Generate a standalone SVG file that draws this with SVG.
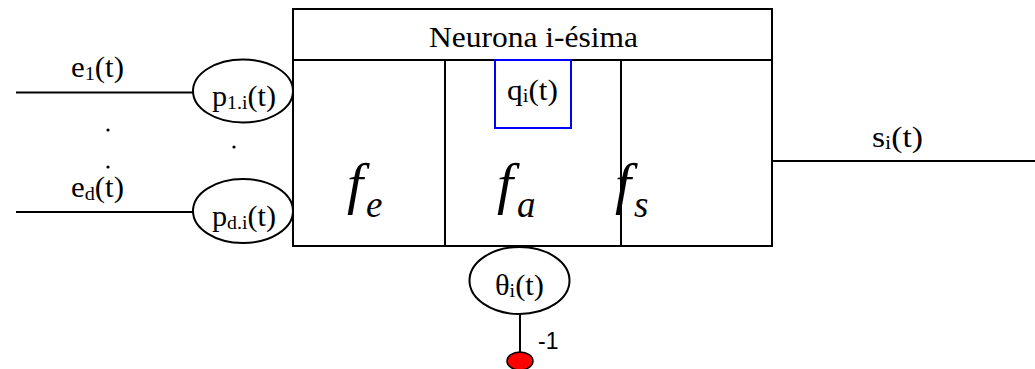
<svg xmlns="http://www.w3.org/2000/svg" width="1035" height="369" viewBox="0 0 1035 369">
<style>
.ln{stroke:#000;stroke-width:2;fill:none}
.el{stroke:#000;stroke-width:2;fill:#fff}
.t{font-size:29px;fill:#000}
.sub{font-size:19px}
.h{font-size:30px;fill:#000}
.fi{font-style:italic;fill:#000}
.big{font-size:58px}
.sm{font-size:37px}
.s{font-size:23px;fill:#000}
</style>
<g id="connectors">
<line class="ln" x1="16" y1="92.5" x2="193" y2="92.5"/>
<line class="ln" x1="16" y1="212" x2="193" y2="212"/>
<line class="ln" x1="772" y1="161" x2="1035" y2="161"/>
<line class="ln" x1="520" y1="314" x2="520" y2="353"/>
</g>
<g id="input-labels" font-family="Liberation Serif, Times New Roman, serif">
<text class="t" x="71" y="77" textLength="53" lengthAdjust="spacingAndGlyphs">e<tspan class="sub" dy="3">1</tspan><tspan dy="-3">(t)</tspan></text>
<text class="t" x="71" y="197" textLength="53" lengthAdjust="spacingAndGlyphs">e<tspan class="sub" dy="3">d</tspan><tspan dy="-3">(t)</tspan></text>
<circle cx="108" cy="130" r="1.6" fill="#000"/>
<circle cx="234" cy="147" r="1.6" fill="#000"/>
<circle cx="108" cy="167" r="1.6" fill="#000"/>
</g>
<g id="p1" font-family="Liberation Serif, Times New Roman, serif">
<ellipse class="el" cx="243" cy="91" rx="50" ry="31.5"/>
<text class="t" x="212" y="106" textLength="64" lengthAdjust="spacingAndGlyphs">p<tspan class="sub" dy="3">1.i</tspan><tspan dy="-3">(t)</tspan></text>
</g>
<g id="pd" font-family="Liberation Serif, Times New Roman, serif">
<ellipse class="el" cx="243" cy="211" rx="50" ry="32"/>
<text class="t" x="212" y="226" textLength="64" lengthAdjust="spacingAndGlyphs">p<tspan class="sub" dy="3">d.i</tspan><tspan dy="-3">(t)</tspan></text>
</g>
<g id="neuron" font-family="Liberation Serif, Times New Roman, serif">
<rect class="ln" x="293" y="9" width="479" height="237"/>
<line class="ln" x1="293" y1="60" x2="772" y2="60"/>
<line class="ln" x1="445" y1="60" x2="445" y2="246"/>
<line class="ln" x1="621" y1="60" x2="621" y2="246"/>
<text class="h" x="429" y="47" textLength="209" lengthAdjust="spacingAndGlyphs">Neurona i-ésima</text>
<text class="fi big" x="347" y="203">f</text>
<text class="fi sm" x="366" y="217">e</text>
<text class="fi big" x="497" y="203">f</text>
<text class="fi sm" x="517" y="217">a</text>
<text class="fi big" x="615" y="203">f</text>
<text class="fi sm" x="634" y="217">s</text>
</g>
<g id="q" font-family="Liberation Serif, Times New Roman, serif">
<rect x="495" y="60" width="76" height="68" fill="none" stroke="#0000ff" stroke-width="2"/>
<text class="t" x="507" y="100" textLength="51" lengthAdjust="spacingAndGlyphs">q<tspan class="sub" dy="2">i</tspan><tspan dy="-2">(t)</tspan></text>
</g>
<g id="output-label" font-family="Liberation Serif, Times New Roman, serif">
<text class="t" x="872" y="147" textLength="51" lengthAdjust="spacingAndGlyphs">s<tspan class="sub" dy="2">i</tspan><tspan dy="-2">(t)</tspan></text>
</g>
<g id="theta" font-family="Liberation Serif, Times New Roman, serif">
<ellipse class="el" cx="519.5" cy="280.5" rx="50" ry="33.5"/>
<text class="t" x="495" y="295" textLength="49" lengthAdjust="spacingAndGlyphs">θ<tspan class="sub" dy="2">i</tspan><tspan dy="-2">(t)</tspan></text>
</g>
<g id="bias" font-family="Liberation Sans, Arial, sans-serif">
<ellipse cx="520" cy="361" rx="13" ry="9" fill="#ff0000" stroke="#000" stroke-width="1.5"/>
<text class="s" x="538" y="349">-1</text>
</g>
</svg>
